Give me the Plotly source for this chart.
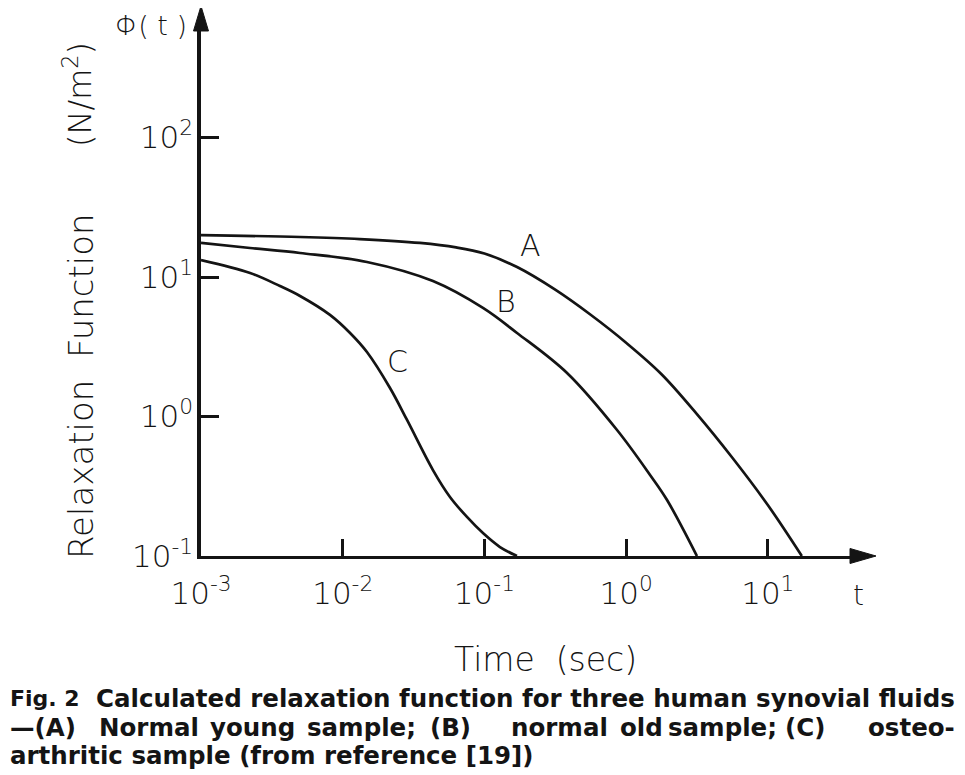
import plotly.graph_objects as go

# ---------------- data ----------------
t_A = [0.001, 0.00501, 0.0132, 0.0351, 0.0631, 0.1, 0.17, 0.316, 0.562, 1.0, 1.778, 3.162, 5.623, 10.0, 17.38]
phi_A = [19.95, 19.36, 18.71, 17.54, 16.29, 14.72, 11.78, 8.11, 5.36, 3.38, 2.01, 1.04, 0.506, 0.232, 0.1]

t_B = [0.001, 0.00222, 0.0050, 0.01483, 0.04335, 0.0977, 0.170, 0.383, 0.863, 1.476, 1.945, 3.162]
phi_B = [17.54, 16.14, 14.86, 12.82, 9.35, 6.0, 3.97, 2.05, 0.80, 0.381, 0.252, 0.1]

t_C = [0.001, 0.00222, 0.00361, 0.0050, 0.00813, 0.01127, 0.01483, 0.02157, 0.02844,
       0.04335, 0.05715, 0.07534, 0.0977, 0.1288, 0.1698]
phi_C = [13.24, 10.69, 8.61, 7.31, 5.35, 3.97, 2.90, 1.60, 0.944,
         0.413, 0.265, 0.1905, 0.146, 0.116, 0.1]

curve_names = ["A", "B", "C"]

x_tickvals = [1e-3, 1e-2, 1e-1, 1e0, 1e1]
x_ticktext = ["10<sup>-3</sup>", "10<sup>-2</sup>", "10<sup>-1</sup>", "10<sup>0</sup>", "10<sup>1</sup>"]
y_tickvals = [1e-1, 1e0, 1e1, 1e2]
y_ticktext = ["10<sup>-1</sup>", "10<sup>0</sup>", "10<sup>1</sup>", "10<sup>2</sup>"]

caption_line1 = ["Fig. 2", "Calculated relaxation function for three human synovial fluids"]
caption_line2 = ["—(A)", "Normal", "young", "sample;", "(B)", "normal", "old", "sample;", "(C)", "osteo-"]
caption_line3 = "arthritic sample (from reference [19])"

# ---------------- layout geometry ----------------
# the page body has an 8px margin, so the figure is shrunk by 8px
W, H = 957, 767
L, R, T, B = 193, 113, 22, 219
PW, PH = W - L - R, H - T - B          # 651 x 526
X_RANGE = [-3, -3 + PW / 141.7]
Y_RANGE = [-1, -1 + PH / 139.5]

# page-pixel -> paper helpers (page plot area: x 201..852, y 30..556)
def px(x):
    return (x - 201) / PW

def py(y):
    return (556 - y) / PH

INK = "#141414"
FONT = "DejaVu Sans"

fig = go.Figure()
for name, t, phi in zip(curve_names, [t_A, t_B, t_C], [phi_A, phi_B, phi_C]):
    fig.add_trace(go.Scatter(x=t, y=phi, mode="lines", name=name,
                             line=dict(color=INK, width=2.7, shape="spline", smoothing=1.0),
                             showlegend=False))

fig.update_layout(
    width=W, height=H,
    margin=dict(l=L, r=R, t=T, b=B),
    paper_bgcolor="white", plot_bgcolor="white",
    showlegend=False,
    xaxis=dict(type="log", range=X_RANGE, showgrid=False, zeroline=False,
               showline=True, linecolor=INK, linewidth=2.5,
               ticks="inside", ticklen=17, tickwidth=2.5, tickcolor=INK,
               tickvals=x_tickvals, ticktext=x_ticktext,
               ticklabelstandoff=8,
               tickfont=dict(family=FONT, size=31, color=INK, weight=200)),
    yaxis=dict(type="log", range=Y_RANGE, showgrid=False, zeroline=False,
               showline=True, linecolor=INK, linewidth=3.5,
               ticks="inside", ticklen=18, tickwidth=2.5, tickcolor=INK,
               tickvals=y_tickvals, ticktext=y_ticktext,
               ticklabelstandoff=-2,
               tickfont=dict(family=FONT, size=31, color=INK, weight=200)),
)

# axis arrowheads
def tri(points):
    p = [f"{px(a):.5f},{py(b):.5f}" for a, b in points]
    return "M " + " L ".join(p) + " Z"

fig.add_shape(type="path", xref="paper", yref="paper",
              path=tri([(193.5, 31), (208.5, 31), (201, 6)]),
              fillcolor=INK, line=dict(color=INK, width=1))
fig.add_shape(type="path", xref="paper", yref="paper",
              path=tri([(850, 548.5), (850, 563.5), (876, 556)]),
              fillcolor=INK, line=dict(color=INK, width=1))

ann = []
def text(x, y, s, size, rot=0, anchor="center", bold=False, weight=200):
    ann.append(dict(x=px(x), y=py(y), xref="paper", yref="paper", text=s, showarrow=False,
                    textangle=rot, xanchor=anchor, yanchor="middle",
                    font=dict(family=FONT, size=size, color=INK,
                              weight=700 if bold else weight)))

# axis titles
text(81, 386, "Relaxation  Function", 34, rot=-90)
text(78, 95, "(N/m<sup>2</sup>)", 32, rot=-90)
text(151, 26, "Φ( t )", 27)
text(545, 659, "Time  (sec)", 33)
text(858, 595, "t", 28)

# curve labels (data coords, log10 units)
label_pos = {"A": (-0.678, 1.229), "B": (-0.848, 0.823), "C": (-1.610, 0.393)}
for name in curve_names:
    lx, ly = label_pos[name]
    ann.append(dict(x=lx, y=ly, xref="x", yref="y", text=name, showarrow=False,
                    xanchor="center", yanchor="middle",
                    font=dict(family=FONT, size=30, color=INK, weight=200)))

# caption
CAP = 24.5
text(8, 698, caption_line1[0], 22, anchor="left", bold=True)
text(94, 698, caption_line1[1], CAP, anchor="left", bold=True)
line2_x = [8, 148.5, 252.5, 361.5, 450, 559.5, 641, 722, 804.5, 957]
line2_anchor = ["left"] + ["center"] * 8 + ["right"]
for xw, w, a in zip(line2_x, caption_line2, line2_anchor):
    text(xw, 727, w, CAP, anchor=a, bold=True)
text(8, 755, caption_line3, CAP, anchor="left", bold=True)

fig.update_layout(annotations=ann)
fig.write_html("out.html")
